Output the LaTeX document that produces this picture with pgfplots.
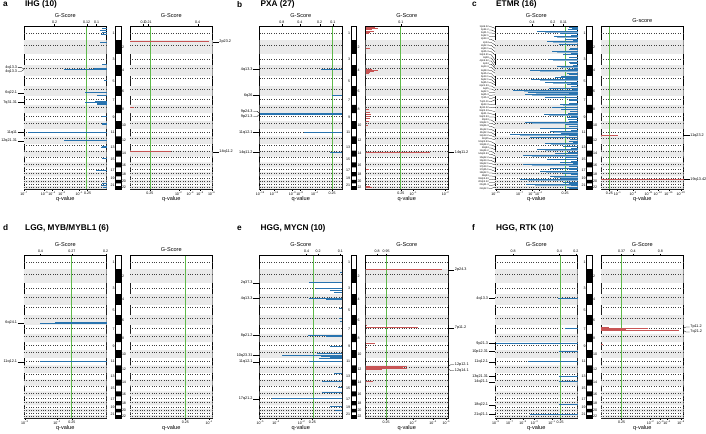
\documentclass[border=0pt]{standalone}
\usepackage{pgfplots}
\pgfplotsset{compat=1.18}
\usepackage{pgfplotstable}
\usepackage{fontspec}
\setmainfont{Liberation Sans}

\definecolor{delc}{RGB}{40,115,175}
\definecolor{ampc}{RGB}{200,85,85}
\definecolor{gline}{RGB}{95,185,75}
\definecolor{bandg}{RGB}{234,234,234}

\newcommand\tickfont{\fontsize{3.6}{4}\selectfont}
\newcommand\lblfont{\fontsize{5.6}{6.5}\selectfont}
\newcommand\cbfont{\fontsize{3.8}{4.2}\selectfont}
\newcommand\etfont{\fontsize{2.5}{2.8}\selectfont}
\newcommand\chrfont{\fontsize{3.6}{4}\selectfont}
\newcommand\ttlfont{\bfseries\fontsize{8.3}{10}\selectfont}
\newcommand\tsup[1]{10\textsuperscript{−#1}}

\pgfplotstableread{
x y
0 249
1 249
1 492
0 492
0 690
1 690
1 881
0 881
0 1062
1 1062
1 1233
0 1233
0 1392
1 1392
1 1538
0 1538
0 1679
1 1679
1 1815
0 1815
0 1950
1 1950
1 2084
0 2084
0 2199
1 2199
1 2306
0 2306
0 2409
1 2409
1 2499
0 2499
0 2580
1 2580
1 2658
0 2658
0 2717
1 2717
1 2780
0 2780
0 2828
1 2828
1 2879
0 2879
}\evenpoly

\pgfplotstableread{
x y
1 125
1 342
1 583
1 740
1 929
1 1123
1 1293
1 1438
1 1587
1 1719
1 1869
1 1986
1 2102
1 2217
1 2325
1 2446
1 2523
1 2597
1 2685
1 2745
1 2793
1 2843
}\centro

\pgfplotsset{
  gbase/.style={scale only axis, width=82.5bp, height=163bp, anchor=north west,
    xmin=0, xmax=1, ymin=0, ymax=2879, y dir=reverse, clip=false,
    axis line style={line width=0.6bp}, ytick=\empty, xtick pos=left,
    tick align=outside, major tick length=1.5bp, tick style={line width=0.3bp, black},
    x tick label style={font=\tickfont, inner sep=0.8bp},
    xlabel={q-value}, xlabel style={font=\lblfont, inner sep=0.5bp}},
  topax/.style={scale only axis, width=82.5bp, height=163bp, anchor=north west,
    xmin=0, xmax=1, ymin=0, ymax=1, axis x line*=top, axis y line=none,
    axis line style={line width=0.6bp},
    tick align=outside, major tick length=1.5bp, tick style={line width=0.3bp, black},
    x tick label style={font=\tickfont, inner sep=0.8bp},
    xlabel style={font=\lblfont, inner sep=0.5bp, yshift=1.5bp}},
  delbar/.style={xcomb, draw=delc, line width=1bp},
  dellight/.style={xcomb, draw=delc!55, line width=1bp},
  ampbar/.style={xcomb, draw=ampc, line width=1bp},
  fanline/.style={black, line width=0.3bp},
}

\newcommand\genomebg{%
  \addplot[fill=bandg, draw=none] table {\evenpoly} -- cycle;
  \addplot[xcomb, draw=black!75, line width=0.3bp, dash pattern=on 1bp off 1.4bp] table {\centro};
}
\newcommand\gs{G-Score}
\newcommand\delax[8]{%
  \begin{axis}[gbase, x dir=reverse, at={(#1bp,-#2bp)}, xtick={#3}, xticklabels={#4}]
    \genomebg
    \addplot[draw=gline, line width=1bp] coordinates {(#7,0) (#7,2879)};
    #8
  \end{axis}
  \begin{axis}[topax, x dir=reverse, at={(#1bp,-#2bp)}, xtick={#5}, xticklabels={#6}, xlabel={\gs}]
  \end{axis}}
\newcommand\ampax[8]{%
  \begin{axis}[gbase, at={(#1bp,-#2bp)}, xtick={#3}, xticklabels={#4}]
    \genomebg
    \addplot[draw=gline, line width=1bp] coordinates {(#7,0) (#7,2879)};
    #8
  \end{axis}
  \begin{axis}[topax, at={(#1bp,-#2bp)}, xtick={#5}, xticklabels={#6}, xlabel={\gs}]
  \end{axis}}
\newcommand\ideo[2]{%
  \begin{axis}[scale only axis, width=5.5bp, height=163bp, at={(#1bp,-#2bp)}, anchor=north west,
    xmin=0, xmax=1, ymin=0, ymax=2879, y dir=reverse, axis line style={line width=0.5bp},
    xtick=\empty, ytick={124.5,591,971.5,1312.5,1608.5,1882.5,2141.5,2357.5,2539.5,2687.5,2804},
    yticklabels={1,3,5,7,9,11,13,15,17,19,21}, ytick pos=left, major tick length=0pt,
    ytick style={draw=none}, y tick label style={font=\chrfont, inner sep=0.8bp}]
    \addplot[fill=black, draw=none] table {\evenpoly} -- cycle;
  \end{axis}
  \begin{axis}[scale only axis, width=5.5bp, height=163bp, at={(#1bp,-#2bp)}, anchor=north west,
    xmin=0, xmax=1, ymin=0, ymax=2879, y dir=reverse, axis line style={draw=none},
    xtick=\empty, ytick={370.5,785.5,1147.5,1465,1747,2017,2252.5,2454,2619,2748.5,2853.5},
    yticklabels={2,4,6,8,10,12,14,16,18,20,22}, ytick pos=right, yticklabel pos=right,
    major tick length=0pt, ytick style={draw=none}, y tick label style={font=\chrfont, inner sep=0.8bp}]
  \end{axis}}
\newcommand\cbL[3]{\addplot[fanline] coordinates {(1.075,#1)(1.03,#1)(1,#2)} node[pos=0,anchor=east,font=\cbfont,inner sep=0.6bp]{#3};}
\newcommand\cbR[3]{\addplot[fanline] coordinates {(1.075,#1)(1.03,#1)(1,#2)} node[pos=0,anchor=west,font=\cbfont,inner sep=0.6bp]{#3};}
\newcommand\cbE[3]{\addplot[black, line width=0.25bp] coordinates {(1.07,#1)(1.045,#1)(1,#2)} node[pos=0,anchor=east,font=\etfont,inner sep=0.4bp]{#3};}

\begin{document}
\begin{tikzpicture}
\path[use as bounding box] (0,0) rectangle (706bp,-434bp);
% titles
\node[anchor=west,font=\ttlfont,inner sep=0] at (3bp,-4.5bp) {a};
\node[anchor=west,font=\ttlfont,inner sep=0] at (25bp,-4.5bp) {IHG (10)};
\node[anchor=west,font=\ttlfont,inner sep=0] at (237bp,-4.5bp) {b};
\node[anchor=west,font=\ttlfont,inner sep=0] at (260.5bp,-4.5bp) {PXA (27)};
\node[anchor=west,font=\ttlfont,inner sep=0] at (472bp,-4.5bp) {c};
\node[anchor=west,font=\ttlfont,inner sep=0] at (496bp,-4.5bp) {ETMR (16)};
\node[anchor=west,font=\ttlfont,inner sep=0] at (3bp,-228bp) {d};
\node[anchor=west,font=\ttlfont,inner sep=0] at (25bp,-228bp) {LGG, MYB/MYBL1 (6)};
\node[anchor=west,font=\ttlfont,inner sep=0] at (237bp,-228bp) {e};
\node[anchor=west,font=\ttlfont,inner sep=0] at (260.5bp,-228bp) {HGG, MYCN (10)};
\node[anchor=west,font=\ttlfont,inner sep=0] at (472bp,-228bp) {f};
\node[anchor=west,font=\ttlfont,inner sep=0] at (496bp,-228bp) {HGG, RTK (10)};

% ---------------- panel a
\delax{24}{26}{1,0.75,0.66,0.54,0.33,0.23}{\tsup{7},\tsup{5},\tsup{4},\tsup{3},\tsup{1},0.25}{0.63,0.24,0.12}{0.2,0.12,0.1}{0.24}{%
  \addplot[delbar] coordinates {(0.06,50)(0.08,80)(0.05,110)(0.07,150)(0.08,300)(0.06,680)(0.15,750)(0.52,763)(0.03,960)(0.26,1178)(0.12,1230)(0.14,1330)(0.26,1352)(0.12,1365)(0.12,1380)(0.05,1600)(0.06,1720)(0.06,1740)(0.95,1880)(0.52,2030)(0.05,2130)(0.07,2150)(0.05,2340)(0.13,2560)(0.05,2780)(0.07,2810)(0.04,2855)};
  \cbL{735}{760}{4q13.3}\cbL{800}{766}{4q13.3}\cbL{1178}{1178}{6q22.1}\cbL{1352}{1352}{7q31.31}\cbL{1880}{1880}{11q11}\cbL{2030}{2030}{12q21.31}}
\ideo{115.5}{26}
\ampax{130}{26}{0.24,0.59,0.73,0.85,0.99}{0.25,\tsup{2},\tsup{4},\tsup{5},\tsup{6}}{0.16,0.22,0.82}{0.2,0.21,0.4}{0.25}{%
  \addplot[ampbar] coordinates {(0.955,278)(0.05,1440)(0.5,2220)};
  \cbR{278}{278}{2p23.2}\cbR{2220}{2220}{14q11.2}}

% ---------------- panel b
\delax{259.5}{26}{0.99,0.82,0.6,0.51,0.33,0.12}{\tsup{16},\tsup{13},\tsup{9},\tsup{8},\tsup{4},0.25}{0.73,0.51,0.27,0.11}{0.8,0.4,0.2,0.1}{0.12}{%
  \addplot[delbar] coordinates {(0.25,763)(0.12,1224)(0.99,1545)(0.99,1560)(0.15,1540)(0.16,1550)(0.15,1555)(0.14,1565)(0.13,1570)(0.46,1880)(0.44,1888)(0.14,2230)(0.13,2236)};
  \cbL{763}{763}{4q13.3}\cbL{1224}{1224}{6q26}\cbL{1505}{1545}{9p24.3}\cbL{1600}{1560}{9p21.3}\cbL{1880}{1880}{11q12.1}\cbL{2230}{2230}{14q11.2}}
\ideo{351}{26}
\ampax{365.5}{26}{0.43,0.58,0.97}{0.25,\tsup{1},\tsup{2}}{0.43}{0.1}{0.43}{%
  \addplot[ampbar] coordinates {(0.12,20)(0.15,40)(0.08,55)(0.06,70)(0.1,90)(0.05,110)(0.04,130)(0.05,400)(0.08,760)(0.15,780)(0.1,800)(0.06,820)(0.04,840)(0.04,1470)(0.06,1520)(0.07,1560)(0.05,1600)(0.06,1640)(0.04,1690)(0.03,1750)(0.78,2230)(0.04,2540)(0.06,2840)(0.08,2860)};
  \cbR{2230}{2230}{14q11.2}}

% ---------------- panel c
\delax{495}{26}{0.99,0.7,0.55,0.47,0.15}{\tsup{15},\tsup{7},\tsup{5},\tsup{4},0.25}{0.55,0.3,0.17}{0.4,0.2,0.11}{0.15}{%
  \addplot[dellight] coordinates {(0.4,110)(0.25,200)(0.3,290)(0.25,465)(0.3,610)(0.2,730)(0.45,800)(0.22,915)(0.45,965)(0.3,1010)(0.3,1110)(0.65,1150)(0.5,1185)(0.55,1228)(0.3,1268)(0.18,1405)(0.25,1446)(0.35,1580)(0.55,1715)(0.38,1815)(0.28,1875)(0.7,1932)(0.48,1975)(0.32,2092)(0.4,2198)(0.55,2303)(0.3,2362)(0.55,2462)(0.28,2521)(0.38,2580)(0.28,2668)(0.6,2727)(0.52,2815)};
  \addplot[delbar] coordinates {(0.07,41)(0.49,100)(0.21,129)(0.29,188)(0.37,276)(0.23,335)(0.09,394)(0.31,452)(0.17,511)(0.35,599)(0.09,658)(0.25,717)(0.04,746)(0.57,787)(0.13,834)(0.27,905)(0.56,952)(0.39,999)(0.13,1040)(0.35,1099)(0.78,1140)(0.6,1175)(0.64,1216)(0.39,1257)(0.09,1304)(0.21,1393)(0.31,1434)(0.09,1510)(0.41,1569)(0.13,1610)(0.64,1704)(0.15,1745)(0.45,1804)(0.33,1863)(0.82,1921)(0.57,1963)(0.09,2010)(0.39,2080)(0.17,2127)(0.49,2186)(0.27,2256)(0.66,2292)(0.37,2350)(0.21,2409)(0.66,2450)(0.33,2509)(0.45,2568)(0.17,2609)(0.33,2656)(0.7,2715)(0.17,2762)(0.62,2803)(0.13,2844)(0.12,60)(0.15,230)(0.1,560)(0.2,890)(0.15,920)(0.1,1320)(0.2,1480)(0.12,1660)(0.2,1890)(0.1,2040)(0.15,2330)(0.2,2690)(0.1,2870)(0.08,160)(0.1,420)(0.12,760)(0.08,1070)(0.1,1200)(0.12,1540)(0.1,1780)(0.08,2000)(0.12,2230)(0.1,2480)(0.08,2630)(0.1,2780)(0.1,20)(0.06,250)(0.08,480)(0.1,640)(0.06,700)(0.1,860)(0.08,1020)(0.06,1120)(0.1,1360)(0.08,1600)(0.1,1690)(0.08,1840)(0.1,1940)(0.06,2060)(0.08,2170)(0.1,2280)(0.08,2390)(0.06,2430)(0.1,2530)(0.08,2600)(0.1,2700)(0.1,2760)(0.08,2820)(0.1,2860)};
  \cbE{15}{41}{1p36.22}\cbE{70}{100}{1p34.2}\cbE{125}{129}{1q21.1}\cbE{180}{188}{1q32.1}\cbE{235}{276}{2p23.3}\cbE{290}{335}{2p14}\cbE{344}{394}{2q22.3}\cbE{399}{452}{2q33.1}\cbE{454}{511}{3p25.3}\cbE{509}{599}{3q13.31}\cbE{564}{658}{3q28}\cbE{619}{717}{4p15.32}\cbE{674}{746}{4p14}\cbE{729}{787}{4q13.3}\cbE{784}{834}{4q28.3}\cbE{839}{905}{5p15.2}\cbE{893}{952}{5p13.1}\cbE{948}{999}{5q22.1}\cbE{1003}{1040}{5q35.1}\cbE{1058}{1099}{6p21.33}\cbE{1113}{1140}{6q15}\cbE{1168}{1175}{6q22.1}\cbE{1223}{1216}{6q25.3}\cbE{1278}{1257}{7p15.3}\cbE{1333}{1304}{7q21.11}\cbE{1388}{1393}{8p23.3}\cbE{1442}{1434}{8p11.22}\cbE{1497}{1510}{8q24.13}\cbE{1552}{1569}{9p21.3}\cbE{1607}{1610}{9q22.33}\cbE{1662}{1704}{10p13}\cbE{1717}{1745}{10q22.1}\cbE{1772}{1804}{10q26.3}\cbE{1827}{1863}{11q12.1}\cbE{1882}{1921}{11q22.3}\cbE{1937}{1963}{12p13.2}\cbE{1991}{2010}{12q15}\cbE{2046}{2080}{12q24.33}\cbE{2101}{2127}{13q14.2}\cbE{2156}{2186}{13q34}\cbE{2211}{2256}{14q24.2}\cbE{2266}{2292}{14q32.33}\cbE{2321}{2350}{15q22.2}\cbE{2376}{2409}{16p13.3}\cbE{2431}{2450}{16q12.1}\cbE{2486}{2509}{17p13.1}\cbE{2540}{2568}{17q25.1}\cbE{2595}{2609}{18q12.1}\cbE{2650}{2656}{18q23}\cbE{2705}{2715}{19q13.43}\cbE{2760}{2762}{20q13.12}\cbE{2815}{2803}{21q21.3}\cbE{2870}{2844}{22q12.1}}
\ideo{586.5}{26}
\renewcommand\gs{G-score}
\ampax{601}{26}{0.1,0.2,0.39,0.58,0.69,0.82,0.97}{0.25,\tsup{1},\tsup{6},\tsup{11},\tsup{14},\tsup{16},\tsup{20}}{\empty}{}{0.1}{%
  \addplot[ampbar] coordinates {(0.21,1927)(1,2713)};
  \cbR{1927}{1927}{11q23.2}\cbR{2713}{2713}{19q13.42}}
\renewcommand\gs{G-Score}

% ---------------- panel d
\delax{24}{255}{0.99,0.6,0.42}{\tsup{3},\tsup{1},0.25}{0.8,0.42,0.01}{0.4,0.27,0.2}{0.42}{%
  \addplot[delbar] coordinates {(0.8,1202)(0.62,1188)(0.62,1194)(0.62,1198)(0.62,1206)(0.62,1210)(0.8,1885)};
  \cbL{1202}{1202}{6q24.1}\cbL{1885}{1885}{11q12.1}}
\ideo{115.5}{255}
\ampax{130}{255}{0.67,0.96}{0.25,\tsup{1}}{\empty}{}{0.67}{}

% ---------------- panel e
\delax{259.5}{255}{0.99,0.8,0.49,0.36}{\tsup{5},\tsup{4},\tsup{2},0.25}{0.43,0.29,0.02}{0.4,0.2,0.1}{0.35}{%
  \addplot[delbar] coordinates {(0.03,310)(0.4,489)(0.31,590)(0.14,630)(0.1,670)(0.4,763)(0.2,785)(0.04,942)(0.04,1117)(0.03,1176)(0.41,1417)(0.2,1440)(0.14,1615)(0.3,1740)(0.73,1769)(0.25,1790)(0.15,1810)(0.28,1830)(0.4,1885)(0.1,2100)(0.24,2240)(0.05,2346)(0.24,2434)(0.85,2538)(0.14,2668)(0.08,2755)};
  \cbL{489}{489}{2q37.3}\cbL{763}{763}{4q13.3}\cbL{1417}{1417}{8p21.2}\cbL{1769}{1769}{10q23.31}\cbL{1885}{1885}{11q12.1}\cbL{2538}{2538}{17q21.2}}
\ideo{351}{255}
\ampax{365.5}{255}{0.25,0.58,0.82,0.98}{0.25,\tsup{2},\tsup{4},\tsup{6}}{0.14,0.25}{0.8,0.95}{0.25}{%
  \addplot[ampbar] coordinates {(0.93,264)(0.02,1250)(0.64,1288)(0.11,1560)(0.02,1640)(0.25,1965)(0.5,1973)(0.45,1980)(0.35,1990)(0.3,2000)(0.5,2009)(0.2,2015)(0.09,2240)};
  \cbR{264}{264}{2p24.3}\cbR{1288}{1288}{7p11.2}\cbR{1940}{1973}{12p12.1}\cbR{2040}{2009}{12q14.1}}

% ---------------- panel f
\delax{495}{255}{0.99,0.82,0.66,0.52,0.31,0.21}{\tsup{9},\tsup{7},\tsup{5},\tsup{3},\tsup{1},0.25}{0.78,0.22,0.02}{0.8,0.4,0.2}{0.21}{%
  \addplot[delbar] coordinates {(0.24,763)(0.15,1300)(0.99,1560)(0.22,1699)(0.6,1885)(0.22,2148)(0.22,2238)(0.22,2644)(0.57,2810)};
  \cbL{763}{763}{4q13.3}\cbL{1560}{1560}{9p21.3}\cbL{1699}{1699}{10p12.31}\cbL{1885}{1885}{11q12.1}\cbL{2148}{2148}{13q21.31}\cbL{2238}{2238}{14q21.1}\cbL{2644}{2644}{18q22.1}\cbL{2810}{2810}{21q21.1}}
\ideo{586.5}{255}
\ampax{601}{255}{0.25,0.6,0.72,0.8,0.97}{0.25,\tsup{2},\tsup{3},\tsup{4},\tsup{6}}{0.25,0.39,0.72}{0.37,0.4,0.8}{0.25}{%
  \addplot[ampbar] coordinates {(0.1,1280)(0.57,1295)(0.3,1300)(0.25,1305)(0.2,1310)(0.3,1315)(0.15,1320)(0.25,1325)(0.94,1335)(0.2,1340)(0.03,1580)};
  \cbR{1270}{1295}{7p11.2}\cbR{1360}{1335}{7q21.2}}
\end{tikzpicture}
\end{document}
